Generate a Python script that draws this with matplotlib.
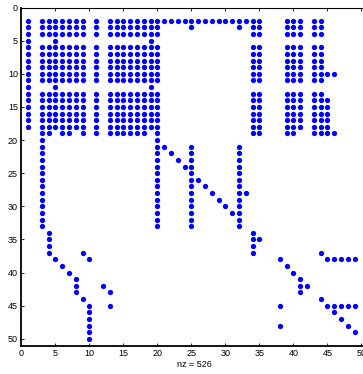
import matplotlib
matplotlib.use('Agg')
import matplotlib.pyplot as plt

plt.rcParams['font.family'] = ['Liberation Sans', 'DejaVu Sans']

# sparsity pattern (1-based row / column indices)
n_rows = 50
n_cols = 50
nz_label = 'nz = 526'

block_a = [1, 3, 4, 5, 6, 7, 8, 9, 11, 13, 14, 15, 16, 17, 18, 19, 20]
block_b = [34, 35, 39, 40, 41, 43, 44]
row2_extra = [21, 22, 23, 24, 25, 26, 27, 28, 29, 30, 31, 32, 33]

# columns with a nonzero, one list per row (row 1 first)
row_cols = [
    [],                                         # 1
    block_a + row2_extra + block_b,             # 2
    block_a + [25, 32] + block_b,               # 3
    block_a + block_b,                          # 4
    [1, 5, 19],                                 # 5
    block_a + block_b,                          # 6
    block_a + block_b,                          # 7
    block_a + block_b,                          # 8
    block_a + block_b,                          # 9
    block_a + block_b + [45, 46],               # 10
    block_a + block_b,                          # 11
    [1, 5, 19],                                 # 12
    block_a + block_b,                          # 13
    block_a + block_b + [45],                   # 14
    block_a + block_b + [45],                   # 15
    block_a + block_b + [45],                   # 16
    block_a + block_b + [45],                   # 17
    block_a + block_b + [45],                   # 18
    [3, 4, 6, 7, 9, 11, 13, 14, 15, 16, 17, 18, 20,
     34, 35, 39, 40, 43, 44, 45, 46],           # 19
    [3, 20],                                    # 20
    [3, 20, 21, 25, 32],                        # 21
    [3, 20, 22, 25, 32],                        # 22
    [3, 20, 23, 25, 32],                        # 23
    [3, 20, 24, 25, 32],                        # 24
    [3, 20, 25, 32],                            # 25
    [3, 20, 25, 26, 32],                        # 26
    [3, 20, 25, 27, 32],                        # 27
    [3, 20, 25, 28, 32, 33],                    # 28
    [3, 20, 25, 29, 32],                        # 29
    [3, 20, 25, 30, 32],                        # 30
    [3, 20, 25, 31, 32],                        # 31
    [3, 20, 25, 32],                            # 32
    [3, 20, 25, 32],                            # 33
    [4, 34],                                    # 34
    [4, 34, 35],                                # 35
    [4, 34],                                    # 36
    [4, 9, 34, 44],                             # 37
    [5, 10, 38, 45, 46, 47, 48, 49],            # 38
    [6, 39],                                    # 39
    [7, 40],                                    # 40
    [8, 41],                                    # 41
    [8, 12, 41, 42],                            # 42
    [8, 13, 41],                                # 43
    [9, 44],                                    # 44
    [10, 13, 38, 45, 46, 47, 48, 49],           # 45
    [10, 46],                                   # 46
    [10, 47],                                   # 47
    [10, 38, 48],                               # 48
    [10, 49],                                   # 49
    [10],                                       # 50
]

rows = []
cols = []
for i, cs in enumerate(row_cols):
    for c in cs:
        rows.append(i + 1)
        cols.append(c)

fig = plt.figure(figsize=(3.63, 3.74), dpi=100)
# axes runs slightly past the right edge, like the cropped original
ax = fig.add_axes([0.0587, 0.0762, 0.9554, 0.9037])

ax.plot(cols, rows, 'o', color=(0, 0, 1), markersize=3.8, markeredgewidth=0)

ax.set_xlim(0, n_cols + 1)
ax.set_ylim(n_rows + 1, 0)
ax.set_xticks(range(0, n_cols + 1, 5))
ax.set_yticks(range(0, n_rows + 1, 5))
ax.tick_params(direction='in', top=True, right=True, length=2.5, width=0.6,
               labelsize=6.5, pad=2.5)
ax.set_xlabel(nz_label, fontsize=6.5, labelpad=1.5)

for side in ['left', 'bottom']:
    ax.spines[side].set_linewidth(1.3)
for side in ['top', 'right']:
    ax.spines[side].set_linewidth(0.8)

fig.savefig('out.png', dpi=100)
